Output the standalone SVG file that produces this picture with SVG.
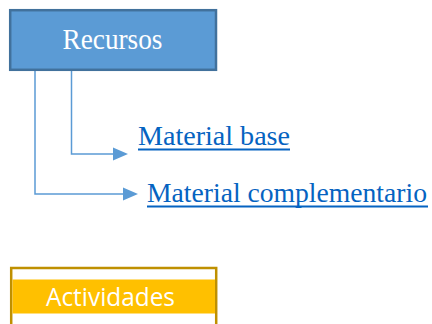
<svg xmlns="http://www.w3.org/2000/svg" width="432" height="324" viewBox="0 0 432 324">
<style>
.serif{font-family:"Liberation Serif","Times New Roman",serif}
.link{fill:#0563C1;font-size:28px}
.ul{stroke:#0563C1;stroke-width:2}
.conn{fill:none;stroke:#5B9BD5;stroke-width:1.5}
.head{fill:#5B9BD5}
</style>
<rect width="432" height="324" fill="#FFFFFF"/>
<g id="connectors">
<path class="conn" d="M35,70 V194 H124"/>
<polygon class="head" points="123,187.5 138,194 123,200.5"/>
<path class="conn" d="M71.5,70 V154 H114"/>
<polygon class="head" points="113,147.5 128,154 113,160.5"/>
</g>
<g id="recursos">
<rect x="10.2" y="10.2" width="205.8" height="59.6" fill="#5B9BD5" stroke="#41719C" stroke-width="2.5"/>
<text class="serif" x="112.5" y="48.5" font-size="29" fill="#FFFFFF" text-anchor="middle" textLength="100" lengthAdjust="spacingAndGlyphs">Recursos</text>
</g>
<g id="material-base">
<text class="serif link" x="138" y="145" textLength="152" lengthAdjust="spacingAndGlyphs">Material base</text>
<line class="ul" x1="138" y1="149.5" x2="290" y2="149.5"/>
</g>
<g id="material-complementario">
<text class="serif link" x="147" y="202" textLength="280" lengthAdjust="spacingAndGlyphs">Material complementario</text>
<line class="ul" x1="147" y1="206.5" x2="428" y2="206.5"/>
</g>
<g id="actividades">
<rect x="11.2" y="268" width="205" height="80" fill="#FFFFFF" stroke="#BF9000" stroke-width="2.5"/>
<rect x="12.5" y="279.5" width="202.5" height="34" fill="#FFC000"/>
<text x="110.5" y="305.5" font-family="'Open Sans','Liberation Sans',sans-serif" font-size="25" fill="#FFFFFF" text-anchor="middle" textLength="129" lengthAdjust="spacingAndGlyphs">Actividades</text>
</g>
</svg>
